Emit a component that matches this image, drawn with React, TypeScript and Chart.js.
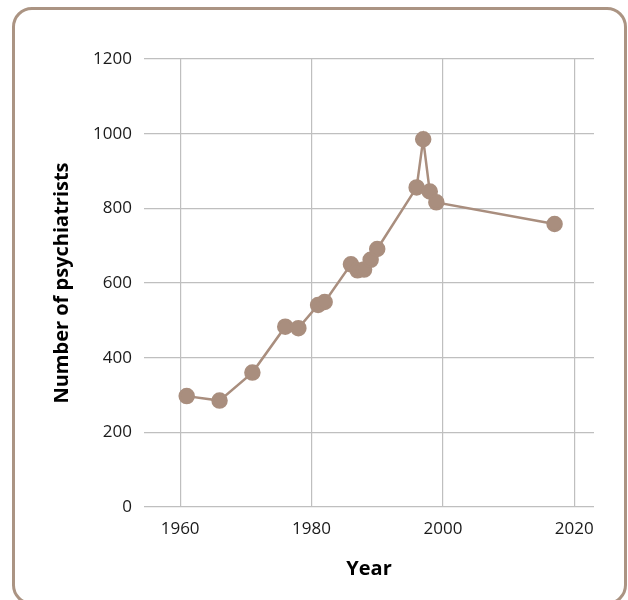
import React, { useEffect, useRef } from "react";
import { Chart, registerables } from "chart.js";

Chart.register(...registerables);

const years = [1961, 1966, 1971, 1976, 1978, 1981, 1982, 1986, 1987, 1988, 1989, 1990, 1996, 1997, 1998, 1999, 2017];
const psychiatrists = [297, 285, 360, 483, 479, 541, 549, 650, 634, 636, 662, 691, 856, 985, 845, 816, 758];
const xTicks = [1960, 1980, 2000, 2020];
const yTicks = [0, 200, 400, 600, 800, 1000, 1200];

const COLOR = "#a98e7e";
const FONT = "'Open Sans', 'Noto Sans', sans-serif";

export default function App() {
  const ref = useRef<HTMLCanvasElement | null>(null);

  useEffect(() => {
    if (!ref.current) return;
    const chart = new Chart(ref.current, {
      type: "line",
      data: {
        datasets: [
          {
            data: years.map((y, i) => ({ x: y, y: psychiatrists[i] })),
            borderColor: COLOR,
            backgroundColor: COLOR,
            pointBackgroundColor: COLOR,
            pointBorderColor: COLOR,
            borderWidth: 2.5,
            pointRadius: 7,
            pointHoverRadius: 7,
            tension: 0,
          },
        ],
      },
      options: {
        responsive: false,
        animation: false,
        devicePixelRatio: 1,
        layout: { padding: { left: 40, top: 59, right: 34, bottom: 15 } },
        plugins: { legend: { display: false }, tooltip: { enabled: false } },
        scales: {
          x: {
            type: "linear",
            min: 1954.5,
            max: 2023,
            afterBuildTicks: (scale: any) => {
              scale.ticks = xTicks.map((v) => ({ value: v }));
            },
            afterFit: (scale: any) => {
              scale.height = 78;
            },
            grid: { color: "#bfbfbf", lineWidth: 1.2, drawTicks: false },
            border: { display: false },
            ticks: {
              padding: 12,
              color: "#1a1a1a",
              font: { family: FONT, size: 17 },
              callback: (v: any) => String(v),
            },
            title: {
              display: true,
              text: "Year",
              color: "#000",
              font: { family: FONT, size: 20, weight: "bold" },
              padding: { top: 0, bottom: 4 },
            },
          },
          y: {
            type: "linear",
            min: 0,
            max: 1200,
            afterBuildTicks: (scale: any) => {
              scale.ticks = yTicks.map((v) => ({ value: v }));
            },
            afterFit: (scale: any) => {
              scale.width = 104;
            },
            grid: { color: "#bfbfbf", lineWidth: 1.2, drawTicks: false },
            border: { display: false },
            ticks: {
              padding: 12,
              color: "#1a1a1a",
              font: { family: FONT, size: 17 },
              callback: (v: any) => String(v),
            },
            title: {
              display: true,
              text: "Number of psychiatrists",
              color: "#000",
              font: { family: FONT, size: 20, weight: "bold" },
              padding: { top: 10, bottom: 0 },
            },
          },
        },
      },
    });
    return () => chart.destroy();
  }, []);

  return (
    <div style={{ position: "fixed", left: 0, top: 0, width: 628, height: 600, overflow: "hidden", background: "#fff" }}>
      <div
        style={{
          position: "absolute",
          left: 12,
          top: 7,
          width: 615,
          height: 598,
          boxSizing: "border-box",
          border: "3px solid #ab9483",
          borderRadius: 20,
        }}
      />
      <canvas ref={ref} width={628} height={600} style={{ position: "absolute", left: 0, top: 0, width: 628, height: 600 }} />
    </div>
  );
}
